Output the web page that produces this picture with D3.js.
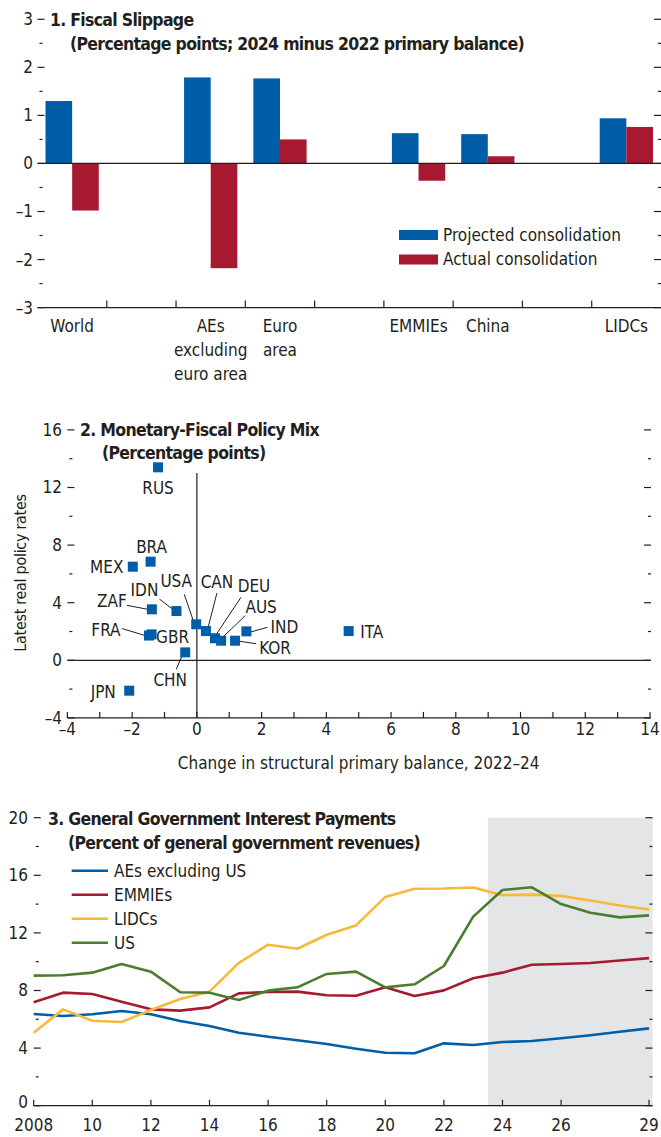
<!DOCTYPE html>
<html><head><meta charset="utf-8">
<script src="https://cdn.jsdelivr.net/npm/d3@7"></script>
<style>
body{margin:0;background:#fff;}
svg{display:block;font-family:"Liberation Sans Narrow","DejaVu Sans Condensed","Arial Narrow",sans-serif;}
</style></head><body>
<svg id="c" width="661" height="1137"></svg>
<script>
// ---------- Panel 1: Fiscal Slippage ----------
const slipCategories = ["World", "", "AEs\nexcluding\neuro area", "Euro\narea", "", "EMMIEs", "China", "", "LIDCs"];
const slipProjected = [1.30, null, 1.79, 1.77, null, 0.63, 0.61, null, 0.94];
const slipActual    = [-0.98, null, -2.18, 0.50, null, -0.36, 0.15, null, 0.76];
const slipSeries = ["Projected consolidation", "Actual consolidation"];
const slipYTicks = [-3, -2, -1, 0, 1, 2, 3];
const slipYMinor = [-2.5, -1.5, -0.5, 0.5, 1.5, 2.5];

// ---------- Panel 2: Monetary-Fiscal Policy Mix ----------
const mixCountries      = ["RUS", "BRA", "MEX", "ZAF", "IDN", "USA", "CAN", "DEU", "AUS", "KOR", "IND", "ITA", "FRA", "GBR", "CHN", "JPN"];
const mixBalanceChange  = [-1.20, -1.43, -1.98, -1.39, -0.63, -0.02, 0.28, 0.56, 0.75, 1.18, 1.53, 4.69, -1.48, -1.40, -0.36, -2.09];
const mixRealRate       = [13.4, 6.85, 6.50, 3.54, 3.42, 2.50, 2.03, 1.53, 1.36, 1.36, 2.01, 2.03, 1.72, 1.80, 0.55, -2.11];
const mixXTicks = [-4, -2, 0, 2, 4, 6, 8, 10, 12, 14];
const mixXMinor = [-3, -1, 1, 3, 5, 7, 9, 11, 13];
const mixYTicks = [-4, 0, 4, 8, 12, 16];
const mixYMinor = [-2, 2, 6, 10, 14];

// ---------- Panel 3: Interest payments ----------
const ipYears = [2008, 2009, 2010, 2011, 2012, 2013, 2014, 2015, 2016, 2017, 2018, 2019, 2020, 2021, 2022, 2023, 2024, 2025, 2026, 2027, 2028, 2029];
const ipAEsExUS = [6.37, 6.23, 6.35, 6.58, 6.35, 5.88, 5.53, 5.07, 4.79, 4.54, 4.28, 3.96, 3.68, 3.64, 4.33, 4.22, 4.42, 4.49, 4.68, 4.89, 5.14, 5.37];
const ipEMMIEs  = [7.18, 7.85, 7.76, 7.22, 6.69, 6.60, 6.83, 7.80, 7.90, 7.92, 7.67, 7.64, 8.22, 7.62, 8.01, 8.85, 9.24, 9.79, 9.84, 9.91, 10.08, 10.25];
const ipLIDCs   = [5.07, 6.69, 5.90, 5.81, 6.65, 7.41, 7.92, 9.92, 11.18, 10.90, 11.87, 12.52, 14.50, 15.07, 15.08, 15.15, 14.62, 14.66, 14.57, 14.25, 13.90, 13.63];
const ipUS      = [9.03, 9.06, 9.24, 9.84, 9.31, 7.88, 7.85, 7.34, 7.99, 8.22, 9.15, 9.31, 8.22, 8.43, 9.70, 13.13, 14.98, 15.17, 14.00, 13.40, 13.08, 13.22];
const ipSeriesNames = ["AEs excluding US", "EMMIEs", "LIDCs", "US"];
const ipXTicks = [2008, 2010, 2012, 2014, 2016, 2018, 2020, 2022, 2024, 2026, 2029];
const ipXTickLabels = ["2008", "10", "12", "14", "16", "18", "20", "22", "24", "26", "29"];
const ipYTicks = [0, 4, 8, 12, 16, 20];
const ipYMinor = [2, 6, 10, 14, 18];
const ipProjectionStart = 2023.5;

// ---------- styles ----------
const BLUE = "#005da8", RED = "#a6192e", YELLOW = "#f6b93b", GREEN = "#4a7d2e", INK = "#231f20", SHADE = "#e4e5e7";
const FS = 17;
const fmt = v => (v < 0 ? "\u2013" + Math.abs(v) : String(v));

const svg = d3.select("#c");
svg.append("rect").attr("width", 661).attr("height", 1137).attr("fill", "#fff");

function yTicks(g, y, major, minor, left, right, labelX, lift) {
  major.forEach(v => {
    g.append("line").attr("x1", left).attr("x2", left + 7).attr("y1", y(v)).attr("y2", y(v)).attr("stroke", INK).attr("stroke-width", 1.2);
    g.append("line").attr("x1", right - 7).attr("x2", right).attr("y1", y(v)).attr("y2", y(v)).attr("stroke", INK).attr("stroke-width", 1.2);
    g.append("text").attr("x", labelX).attr("y", y(v) - (v === major[0] && lift ? lift : 0)).attr("dy", "0.35em").attr("text-anchor", "end")
      .attr("font-size", FS).attr("fill", INK).text(fmt(v));
  });
  minor.forEach(v => {
    g.append("line").attr("x1", left + 2).attr("x2", left + 5).attr("y1", y(v)).attr("y2", y(v)).attr("stroke", INK).attr("stroke-width", 1.2);
    g.append("line").attr("x1", right - 3).attr("x2", right).attr("y1", y(v)).attr("y2", y(v)).attr("stroke", INK).attr("stroke-width", 1.2);
  });
}
function title(g, x1, y1, t1, x2, y2, t2) {
  [[x1, y1, t1], [x2, y2, t2]].forEach(([x, y, t]) => {
    g.append("text").attr("x", x).attr("y", y).attr("font-size", 17.5).attr("font-weight", "bold")
      .attr("letter-spacing", -0.7).attr("fill", INK).text(t);
  });
}

// ================= Panel 1 =================
{
  const g = svg.append("g");
  const L = 37.5, R = 661;
  const y = d3.scaleLinear().domain([-3, 3]).range([307.6, 19.3]);
  const x = d3.scaleBand().domain(d3.range(slipCategories.length)).range([L, R]);
  const xs = d3.scaleBand().domain([0, 1]).range([0, x.bandwidth()]).paddingOuter(0.3);
  const series = [slipProjected, slipActual];
  const colors = [BLUE, RED];
  series.forEach((vals, si) => {
    g.selectAll(null).data(vals.map((v, i) => ({ v, i })).filter(d => d.v !== null)).enter().append("rect")
      .attr("x", d => x(d.i) + xs(si))
      .attr("width", xs.bandwidth())
      .attr("y", d => y(Math.max(0, d.v)))
      .attr("height", d => Math.abs(y(d.v) - y(0)))
      .attr("fill", colors[si]);
  });
  g.append("line").attr("x1", L).attr("x2", R).attr("y1", y(0)).attr("y2", y(0)).attr("stroke", INK).attr("stroke-width", 1.3);
  g.append("line").attr("x1", L).attr("x2", R).attr("y1", y(-3)).attr("y2", y(-3)).attr("stroke", INK).attr("stroke-width", 1.3);
  d3.range(1, slipCategories.length).forEach(i => {
    g.append("line").attr("x1", x(i)).attr("x2", x(i)).attr("y1", y(-3)).attr("y2", y(-3) - 7).attr("stroke", INK).attr("stroke-width", 1.2);
  });
  yTicks(g, y, slipYTicks, slipYMinor, L, R, 33, 0);
  slipCategories.forEach((c, i) => {
    if (!c) return;
    c.split("\n").forEach((line, k) => {
      g.append("text").attr("x", x(i) + x.bandwidth() / 2).attr("y", 326.5 + k * 24).attr("dy", "0.35em")
        .attr("text-anchor", "middle").attr("font-size", FS).attr("fill", INK).text(line);
    });
  });
  slipSeries.forEach((s, k) => {
    const ly = 235 + k * 24.5;
    g.append("rect").attr("x", 399).attr("y", ly - 5).attr("width", 39).attr("height", 10).attr("fill", colors[k]);
    g.append("text").attr("x", 443).attr("y", ly).attr("dy", "0.35em").attr("font-size", FS).attr("fill", INK).text(s);
  });
  title(g, 50, 25.5, "1. Fiscal Slippage", 70, 49.5, "(Percentage points; 2024 minus 2022 primary balance)");
}

// ================= Panel 2 =================
{
  const g = svg.append("g");
  const L = 67.4, R = 650;
  const x = d3.scaleLinear().domain([-4, 14]).range([L, R]);
  const y = d3.scaleLinear().domain([-4, 16]).range([717.9, 429.9]);
  g.append("line").attr("x1", L).attr("x2", R).attr("y1", y(0)).attr("y2", y(0)).attr("stroke", INK).attr("stroke-width", 1.2);
  g.append("line").attr("x1", x(0)).attr("x2", x(0)).attr("y1", y(13)).attr("y2", y(-4)).attr("stroke", INK).attr("stroke-width", 1.2);
  g.append("line").attr("x1", L).attr("x2", R).attr("y1", y(-4)).attr("y2", y(-4)).attr("stroke", INK).attr("stroke-width", 1.3);
  mixXTicks.concat(mixXMinor).forEach(v => {
    g.append("line").attr("x1", x(v)).attr("x2", x(v)).attr("y1", y(-4)).attr("y2", y(-4) - 6).attr("stroke", INK).attr("stroke-width", 1.2);
  });
  mixXTicks.forEach(v => {
    g.append("text").attr("x", x(v)).attr("y", 729).attr("dy", "0.35em").attr("text-anchor", "middle")
      .attr("font-size", FS).attr("fill", INK).text(fmt(v));
  });
  yTicks(g, y, mixYTicks, mixYMinor, L, R + 1, 62, 0);
  g.append("text").attr("x", (L + R) / 2).attr("y", 763).attr("dy", "0.35em").attr("text-anchor", "middle")
    .attr("font-size", FS).attr("fill", INK).text("Change in structural primary balance, 2022\u201324");
  g.append("text").attr("transform", "translate(20,573) rotate(-90)").attr("dy", "0.35em").attr("text-anchor", "middle")
    .attr("font-size", 16).attr("letter-spacing", -0.3).attr("fill", INK).text("Latest real policy rates");

  // label layout: pixel offsets of each label centre and optional leader line from its marker
  const labelLayout = {
    RUS: { dx: 0, dy: 21 }, BRA: { dx: 1, dy: -15 }, MEX: { dx: -26, dy: 0 },
    ZAF: { dx: -40, dy: -8, l: [-25, -4, -4, 0] }, IDN: { dx: -32, dy: -21, l: [-17, -12, -4, -2] },
    USA: { dx: -20, dy: -43, l: [-12, -30, -2, -1] }, CAN: { dx: 11, dy: -49, l: [11, -38, 2, -3] },
    DEU: { dx: 39, dy: -52, l: [26, -41, 0, -2] }, AUS: { dx: 40, dy: -34, l: [24, -25, -1, -1] },
    KOR: { dx: 40, dy: 7, l: [21, 3, 1, 0] }, IND: { dx: 38, dy: -4, l: [21, -4, 3, 1] },
    ITA: { dx: 23, dy: 1 }, FRA: { dx: -43, dy: -5, l: [-27, -7, -4, 0] }, GBR: { dx: 21, dy: 3 },
    CHN: { dx: -15, dy: 28, l: [-9, 17, -3, 3] }, JPN: { dx: -26, dy: 1 }
  };
  const pts = mixCountries.map((c, i) => ({ c, px: x(mixBalanceChange[i]), py: y(mixRealRate[i]) }));
  pts.forEach(p => {
    const lay = labelLayout[p.c];
    if (lay.l) g.append("line").attr("x1", p.px + lay.l[0]).attr("y1", p.py + lay.l[1]).attr("x2", p.px + lay.l[2]).attr("y2", p.py + lay.l[3])
      .attr("stroke", INK).attr("stroke-width", 1);
  });
  g.selectAll(null).data(pts).enter().append("rect")
    .attr("x", d => d.px - 5).attr("y", d => d.py - 5).attr("width", 10).attr("height", 10).attr("fill", BLUE);
  pts.forEach(p => {
    const lay = labelLayout[p.c];
    g.append("text").attr("x", p.px + lay.dx).attr("y", p.py + lay.dy).attr("dy", "0.35em").attr("text-anchor", "middle")
      .attr("font-size", FS).attr("fill", INK).text(p.c);
  });
  title(g, 80, 436, "2. Monetary-Fiscal Policy Mix", 102, 458.5, "(Percentage points)");
}

// ================= Panel 3 =================
{
  const g = svg.append("g");
  const L = 33.7, R = 652.5;
  const x = d3.scaleLinear().domain([2008, 2029]).range([L, 649]);
  const y = d3.scaleLinear().domain([0, 20]).range([1105.7, 817.7]);
  g.append("rect").attr("x", x(ipProjectionStart)).attr("y", y(20)).attr("width", R - x(ipProjectionStart)).attr("height", y(0) - y(20)).attr("fill", SHADE);
  g.append("line").attr("x1", L).attr("x2", R).attr("y1", y(0)).attr("y2", y(0)).attr("stroke", INK).attr("stroke-width", 1.3);
  ipXTicks.forEach((v, i) => {
    g.append("line").attr("x1", x(v)).attr("x2", x(v)).attr("y1", y(0)).attr("y2", y(0) - 6).attr("stroke", INK).attr("stroke-width", 1.2);
    g.append("text").attr("x", x(v)).attr("y", 1125).attr("dy", "0.35em").attr("text-anchor", "middle")
      .attr("font-size", FS).attr("fill", INK).text(ipXTickLabels[i]);
  });
  yTicks(g, y, ipYTicks, ipYMinor, L, R, 28, 4);
  const series = [ipAEsExUS, ipEMMIEs, ipLIDCs, ipUS];
  const colors = [BLUE, RED, YELLOW, GREEN];
  const line = d3.line().x((d, i) => x(ipYears[i])).y(d => y(d));
  series.forEach((s, k) => {
    g.append("path").attr("d", line(s)).attr("fill", "none").attr("stroke", colors[k]).attr("stroke-width", 2.6).attr("stroke-linejoin", "round");
  });
  ipSeriesNames.forEach((n, k) => {
    const ly = 870.7 + k * 24;
    g.append("line").attr("x1", 71.7).attr("x2", 108).attr("y1", ly).attr("y2", ly).attr("stroke", colors[k]).attr("stroke-width", 2.6);
    g.append("text").attr("x", 114).attr("y", ly).attr("dy", "0.35em").attr("font-size", FS).attr("fill", INK).text(n);
  });
  title(g, 48, 825, "3. General Government Interest Payments", 68, 848.5, "(Percent of general government revenues)");
}
</script>
</body></html>
